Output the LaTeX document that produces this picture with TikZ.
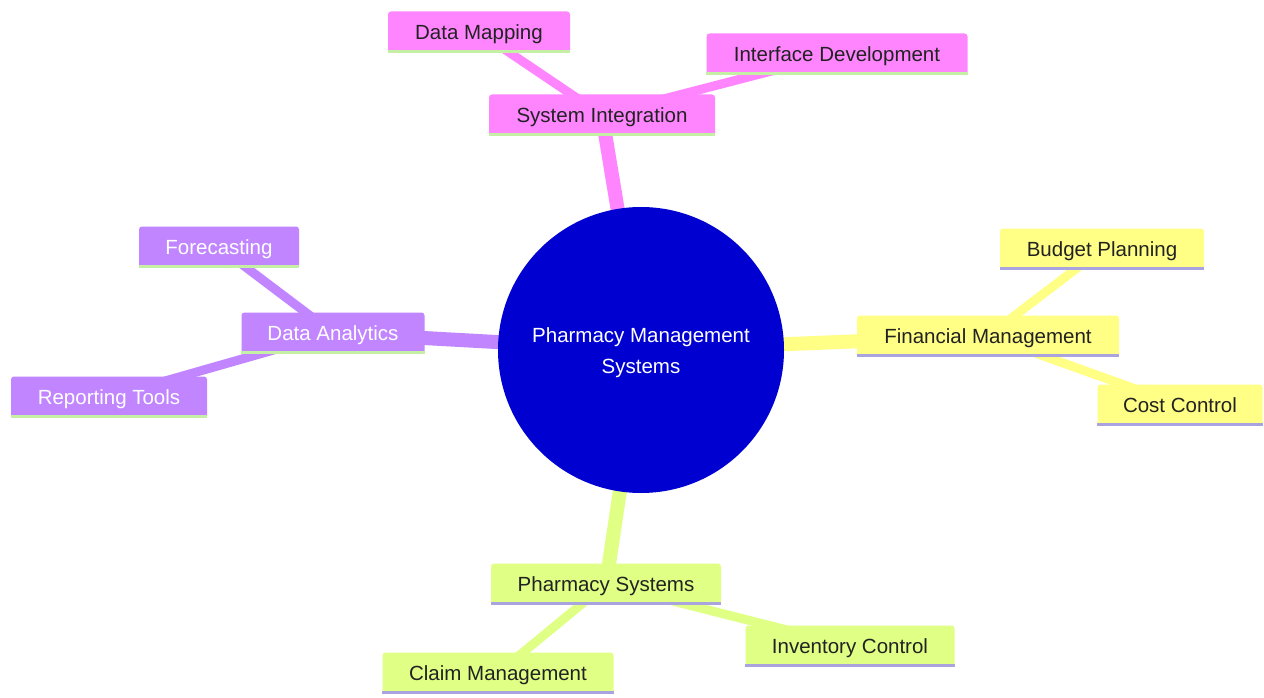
\documentclass[tikz,border=0pt]{standalone}
\usepackage{fontspec}
\setmainfont{Liberation Sans}
\usetikzlibrary{backgrounds}
\definecolor{cpink}{HTML}{FF85FF}
\definecolor{cviolet}{HTML}{C085FF}
\definecolor{cyellow}{HTML}{FFFF85}
\definecolor{cgreen}{HTML}{DFFF85}
\definecolor{croot}{HTML}{0000D0}
\definecolor{ulgreen}{HTML}{C6EFA6}
\definecolor{ulpurple}{HTML}{A9A3E0}
\definecolor{darktext}{HTML}{222222}
\tikzset{
  box/.style={rectangle, rounded corners=3pt, minimum height=41pt, inner sep=0pt,
    text height=14.7pt, text depth=0pt,
    font=\fontsize{20.5}{24}\selectfont, text=darktext},
  pinkbox/.style={box, fill=cpink},
  violetbox/.style={box, fill=cviolet, text=white},
  yellowbox/.style={box, fill=cyellow},
  greenbox/.style={box, fill=cgreen},
  thick edge/.style={line width=14pt},
  thin edge/.style={line width=9pt},
  underline/.style={line width=3pt},
}
\begin{document}
\begin{tikzpicture}[x=1pt,y=-1pt]
\useasboundingbox (0,0) rectangle (1264,698);
% root
\node[circle, fill=croot, minimum size=286pt, inner sep=0pt] (root) at (641,350) {};
\node[text=white, align=center, inner sep=0pt, font=\fontsize{20.5}{31}\selectfont]
  (roottext) at ([yshift=-2.5pt]root.center) {Pharmacy Management\\Systems};
% pink
\node[pinkbox, minimum width=182pt] (dm) at (479,32) {Data Mapping};
\node[pinkbox, minimum width=261pt] (idv) at (837,54) {Interface Development};
\node[pinkbox, minimum width=226pt] (si) at (602,115) {System Integration};
% violet
\node[violetbox, minimum width=160pt] (fc) at (219,247) {Forecasting};
\node[violetbox, minimum width=183pt] (da) at (333,333) {Data Analytics};
\node[violetbox, minimum width=196pt] (rt) at (109,397) {Reporting Tools};
% yellow
\node[yellowbox, minimum width=204pt] (bp) at (1102,249) {Budget Planning};
\node[yellowbox, minimum width=262pt] (fm) at (988,336) {Financial Management};
\node[yellowbox, minimum width=165pt] (cc) at (1180,405) {Cost Control};
% green
\node[greenbox, minimum width=230pt] (ps) at (606,584) {Pharmacy Systems};
\node[greenbox, minimum width=209pt] (ic) at (850,646) {Inventory Control};
\node[greenbox, minimum width=231pt] (cm) at (498,673) {Claim Management};
% underlines
\foreach \n in {dm,idv,si,fc,da,rt}
  \draw[underline, ulgreen] ([yshift=1.5pt]\n.south west) -- ([yshift=1.5pt]\n.south east);
\foreach \n in {bp,fm,cc,ps,ic,cm}
  \draw[underline, ulpurple] ([yshift=1.5pt]\n.south west) -- ([yshift=1.5pt]\n.south east);
% background and edges
\begin{scope}[on background layer]
\fill[white] (0,0) rectangle (1264,698);
\draw[thick edge, cpink] (root.center) -- (si.center);
\draw[thin edge, cpink] (si.center) -- (dm.center);
\draw[thin edge, cpink] (si.center) -- (idv.center);
\draw[thick edge, cviolet] (root.center) -- (da.center);
\draw[thin edge, cviolet] (da.center) -- (fc.center);
\draw[thin edge, cviolet] (da.center) -- (rt.center);
\draw[thick edge, cyellow] (root.center) -- (fm.center);
\draw[thin edge, cyellow] (fm.center) -- (bp.center);
\draw[thin edge, cyellow] (fm.center) -- (cc.center);
\draw[thick edge, cgreen] (root.center) -- (ps.center);
\draw[thin edge, cgreen] (ps.center) -- (ic.center);
\draw[thin edge, cgreen] (ps.center) -- (cm.center);
\end{scope}
\end{tikzpicture}
\end{document}
